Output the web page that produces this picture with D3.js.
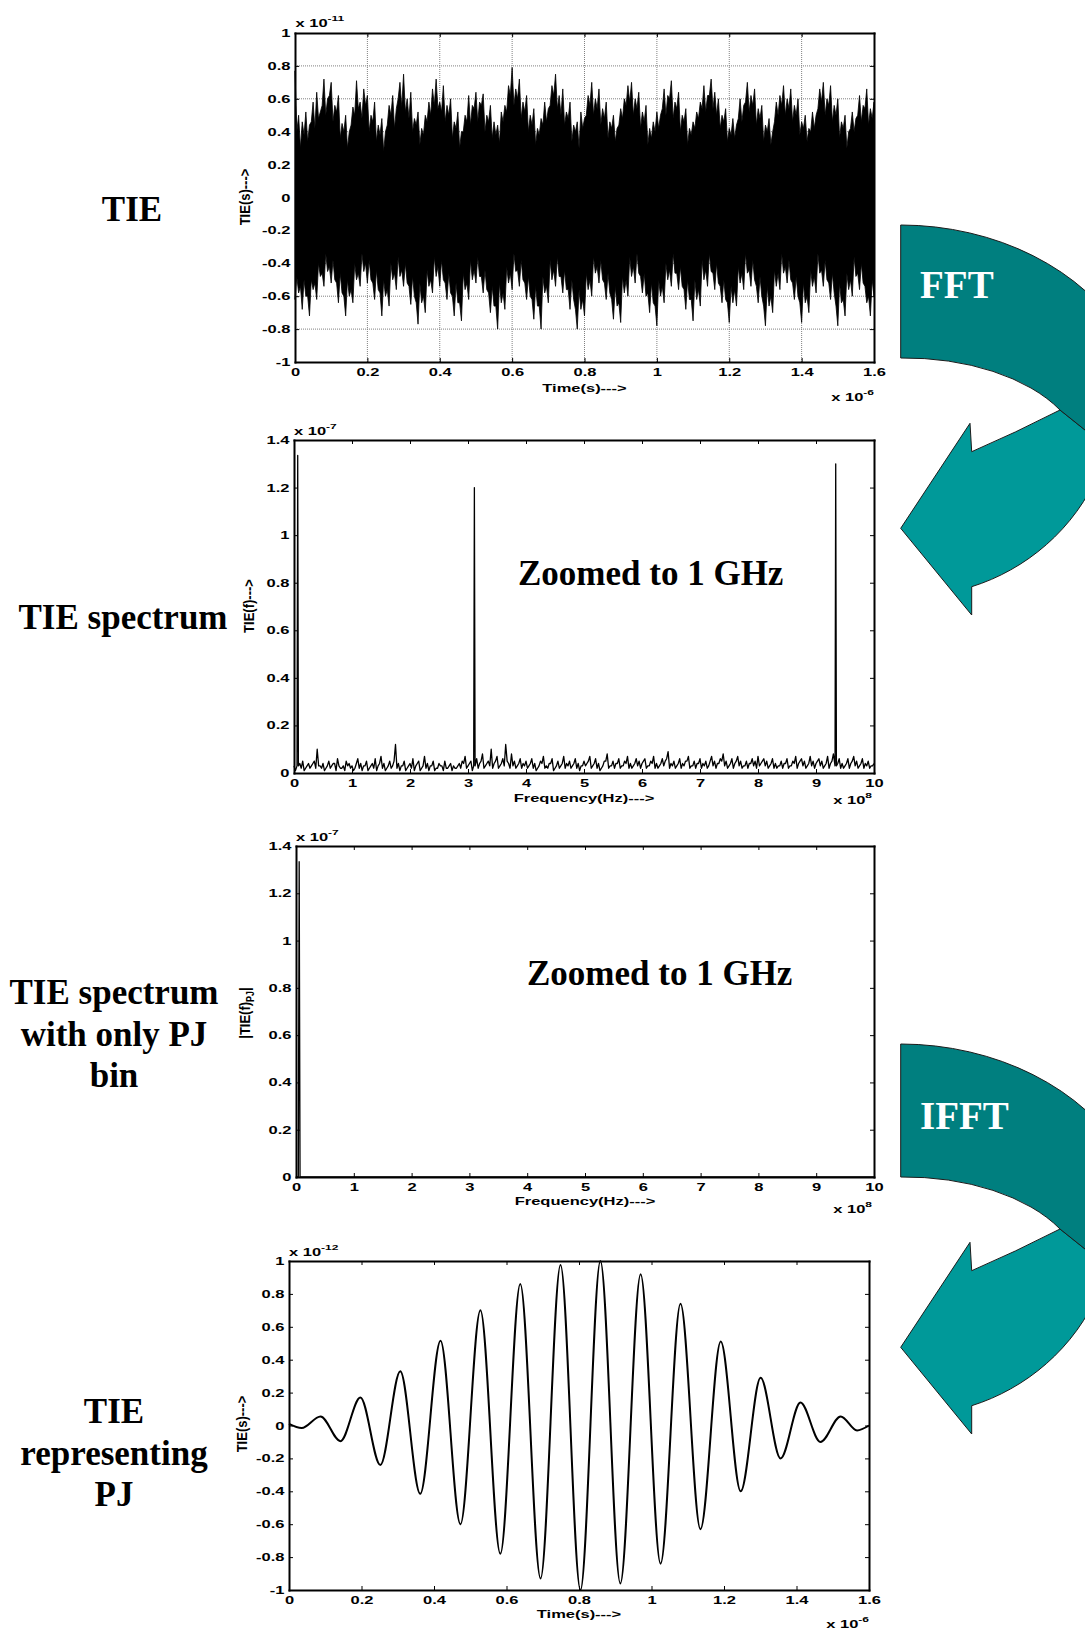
<!DOCTYPE html>
<html><head><meta charset="utf-8">
<script src="https://cdn.jsdelivr.net/npm/d3@7"></script>
<style>body{margin:0;background:#fff;} svg{display:block;}</style>
</head><body>
<svg id="c" width="1085" height="1629"></svg>
<script>
// ---------------- DATA ----------------
// Panel 1: TIE record (units 1e-11 s). Upper / lower envelope of the dense jitter trace,
// sampled every 0.01 us, plus the values between samples (at +0.005 us).
const tieTimeStep = 0.01;
const tieUpper = [0.77,0.50,0.46,0.52,0.44,0.58,0.64,0.52,0.72,0.60,0.70,0.56,0.62,0.45,0.50,0.40,0.55,0.71,0.58,0.66,
  0.62,0.50,0.58,0.44,0.48,0.40,0.56,0.62,0.54,0.70,0.75,0.60,0.64,0.48,0.52,0.42,0.50,0.58,0.66,0.72,
  0.58,0.68,0.56,0.60,0.46,0.52,0.40,0.50,0.62,0.56,0.64,0.58,0.63,0.50,0.56,0.46,0.44,0.52,0.56,0.68,
  0.79,0.66,0.72,0.58,0.62,0.50,0.54,0.42,0.48,0.58,0.54,0.68,0.75,0.62,0.66,0.52,0.58,0.44,0.46,0.52,
  0.48,0.62,0.70,0.60,0.66,0.54,0.58,0.46,0.50,0.42,0.54,0.60,0.68,0.70,0.60,0.64,0.52,0.56,0.42,0.46,
  0.52,0.50,0.66,0.62,0.71,0.58,0.64,0.50,0.54,0.42,0.46,0.52,0.58,0.68,0.62,0.72,0.64,0.60,0.50,0.54,
  0.42,0.48,0.44,0.60,0.56,0.70,0.62,0.66,0.54,0.56,0.44,0.48,0.40,0.58,0.62,0.68,0.60,0.66,0.56,0.60,
  0.46,0.50,0.42,0.52,0.50,0.66,0.70,0.60,0.68,0.56,0.60,0.46,0.50,0.40,0.52,0.48,0.62,0.56,0.66,0.54,0.58];
const tieUpperMid = [0.40,0.30,0.38,0.34,0.46,0.42,0.48,0.56,0.50,0.62,0.46,0.52,0.36,0.40,0.30,0.44,0.50,0.54,0.48,0.56,
  0.40,0.46,0.34,0.38,0.28,0.44,0.50,0.42,0.60,0.55,0.52,0.48,0.40,0.44,0.32,0.38,0.46,0.50,0.56,0.54,
  0.52,0.46,0.50,0.36,0.42,0.30,0.40,0.46,0.44,0.54,0.46,0.56,0.40,0.46,0.36,0.38,0.33,0.46,0.52,0.62,
  0.56,0.60,0.48,0.52,0.40,0.44,0.32,0.38,0.44,0.46,0.56,0.62,0.54,0.50,0.44,0.48,0.34,0.40,0.30,0.42,
  0.50,0.56,0.50,0.54,0.44,0.48,0.36,0.42,0.34,0.44,0.48,0.56,0.58,0.50,0.54,0.42,0.46,0.32,0.36,0.40,
  0.42,0.54,0.50,0.60,0.48,0.54,0.40,0.46,0.32,0.38,0.42,0.48,0.54,0.52,0.62,0.54,0.50,0.42,0.46,0.34,
  0.38,0.36,0.48,0.46,0.58,0.52,0.56,0.44,0.48,0.34,0.40,0.32,0.46,0.50,0.56,0.50,0.54,0.46,0.50,0.38,
  0.42,0.34,0.40,0.42,0.54,0.58,0.50,0.56,0.46,0.50,0.36,0.42,0.30,0.42,0.40,0.50,0.46,0.54,0.44,0.48];
const tieLower = [-0.62,-0.58,-0.68,-0.60,-0.72,-0.56,-0.62,-0.48,-0.54,-0.45,-0.52,-0.50,-0.64,-0.58,-0.72,-0.60,-0.64,-0.50,-0.54,-0.45,
  -0.52,-0.50,-0.62,-0.56,-0.72,-0.60,-0.66,-0.50,-0.56,-0.48,-0.54,-0.52,-0.65,-0.60,-0.77,-0.64,-0.70,-0.54,-0.58,-0.48,
  -0.54,-0.50,-0.62,-0.58,-0.72,-0.64,-0.75,-0.56,-0.62,-0.50,-0.52,-0.48,-0.58,-0.56,-0.70,-0.66,-0.80,-0.64,-0.68,-0.52,
  -0.56,-0.45,-0.54,-0.50,-0.62,-0.60,-0.74,-0.66,-0.80,-0.58,-0.64,-0.50,-0.54,-0.48,-0.58,-0.56,-0.68,-0.62,-0.80,-0.68,
  -0.72,-0.56,-0.60,-0.46,-0.52,-0.50,-0.62,-0.58,-0.74,-0.66,-0.76,-0.58,-0.60,-0.48,-0.52,-0.46,-0.58,-0.60,-0.70,-0.64,
  -0.78,-0.60,-0.64,-0.50,-0.54,-0.46,-0.56,-0.54,-0.68,-0.62,-0.75,-0.62,-0.66,-0.50,-0.54,-0.45,-0.56,-0.52,-0.64,-0.62,
  -0.76,-0.64,-0.66,-0.52,-0.56,-0.46,-0.54,-0.50,-0.64,-0.60,-0.78,-0.66,-0.70,-0.54,-0.56,-0.46,-0.52,-0.50,-0.62,-0.60,
  -0.76,-0.64,-0.70,-0.54,-0.58,-0.46,-0.54,-0.50,-0.62,-0.58,-0.78,-0.64,-0.72,-0.56,-0.60,-0.48,-0.56,-0.52,-0.64,-0.72,-0.60];
const tieLowerMid = [-0.48,-0.54,-0.50,-0.60,-0.50,-0.52,-0.40,-0.46,-0.34,-0.42,-0.38,-0.52,-0.46,-0.60,-0.50,-0.56,-0.40,-0.46,-0.34,-0.40,
  -0.38,-0.52,-0.44,-0.58,-0.50,-0.56,-0.40,-0.46,-0.36,-0.44,-0.40,-0.54,-0.48,-0.64,-0.52,-0.60,-0.44,-0.50,-0.36,-0.42,
  -0.38,-0.52,-0.46,-0.60,-0.52,-0.64,-0.46,-0.52,-0.38,-0.44,-0.36,-0.48,-0.44,-0.58,-0.54,-0.66,-0.52,-0.58,-0.42,-0.46,
  -0.34,-0.44,-0.38,-0.52,-0.48,-0.62,-0.54,-0.66,-0.48,-0.54,-0.38,-0.44,-0.36,-0.48,-0.44,-0.56,-0.50,-0.68,-0.56,-0.62,
  -0.46,-0.50,-0.36,-0.42,-0.38,-0.52,-0.46,-0.62,-0.54,-0.64,-0.48,-0.50,-0.36,-0.42,-0.34,-0.48,-0.46,-0.58,-0.52,-0.66,
  -0.50,-0.54,-0.40,-0.44,-0.34,-0.46,-0.42,-0.56,-0.50,-0.62,-0.50,-0.56,-0.38,-0.44,-0.34,-0.46,-0.40,-0.54,-0.50,-0.64,
  -0.54,-0.56,-0.42,-0.46,-0.34,-0.44,-0.38,-0.54,-0.48,-0.66,-0.54,-0.60,-0.44,-0.46,-0.34,-0.42,-0.38,-0.52,-0.48,-0.64,
  -0.52,-0.60,-0.44,-0.48,-0.34,-0.44,-0.38,-0.52,-0.46,-0.66,-0.52,-0.62,-0.46,-0.50,-0.36,-0.46,-0.40,-0.54,-0.60,-0.50];

// Panel 2: TIE spectrum noise floor (units 1e-7), every 0.05 x 1e8 Hz and between (at +0.025), plus spectral lines
const specFreqStep = 0.05;
const specNoise = [0.03,0.02,0.04,0.05,0.02,0.04,0.03,0.05,0.10,0.03,0.04,0.02,0.05,0.03,0.04,0.06,0.02,0.03,0.05,0.04,
  0.03,0.02,0.06,0.04,0.03,0.05,0.02,0.04,0.06,0.03,0.07,0.04,0.02,0.05,0.03,0.12,0.04,0.03,0.05,0.02,
  0.04,0.06,0.03,0.05,0.02,0.07,0.04,0.03,0.05,0.02,0.04,0.03,0.05,0.02,0.04,0.03,0.02,0.04,0.05,0.07,
  0.03,0.05,0.02,0.06,0.04,0.08,0.03,0.05,0.10,0.04,0.07,0.03,0.06,0.12,0.04,0.08,0.05,0.03,0.06,0.04,
  0.05,0.03,0.06,0.04,0.02,0.05,0.07,0.03,0.04,0.06,0.02,0.05,0.03,0.07,0.04,0.05,0.03,0.06,0.04,0.03,
  0.05,0.04,0.07,0.03,0.06,0.04,0.02,0.05,0.08,0.03,0.05,0.04,0.06,0.03,0.05,0.07,0.04,0.03,0.06,0.05,
  0.04,0.06,0.03,0.05,0.07,0.04,0.03,0.06,0.05,0.09,0.04,0.05,0.03,0.06,0.04,0.05,0.07,0.03,0.05,0.04,
  0.06,0.04,0.05,0.03,0.07,0.05,0.04,0.06,0.08,0.05,0.03,0.06,0.04,0.07,0.05,0.03,0.05,0.04,0.06,0.05,
  0.07,0.04,0.06,0.05,0.03,0.06,0.04,0.03,0.05,0.04,0.06,0.03,0.05,0.07,0.04,0.06,0.05,0.03,0.07,0.05,
  0.04,0.06,0.05,0.03,0.07,0.04,0.08,0.05,0.06,0.04,0.03,0.06,0.04,0.07,0.05,0.03,0.06,0.04,0.05,0.03,0.04];
const specNoiseMid = [0.01,0.03,0.02,0.01,0.03,0.02,0.04,0.02,0.03,0.02,0.01,0.03,0.02,0.04,0.01,0.03,0.02,0.01,0.03,0.02,
  0.01,0.04,0.02,0.01,0.03,0.01,0.03,0.02,0.01,0.04,0.02,0.01,0.03,0.02,0.05,0.02,0.01,0.03,0.01,0.03,
  0.02,0.01,0.04,0.01,0.03,0.02,0.01,0.03,0.01,0.02,0.03,0.01,0.02,0.03,0.01,0.02,0.03,0.02,0.04,0.02,
  0.04,0.01,0.03,0.02,0.05,0.02,0.04,0.03,0.02,0.05,0.02,0.04,0.03,0.05,0.02,0.03,0.02,0.04,0.02,0.03,
  0.02,0.04,0.02,0.01,0.03,0.04,0.02,0.02,0.04,0.01,0.03,0.02,0.04,0.02,0.03,0.02,0.04,0.02,0.01,0.03,
  0.03,0.05,0.02,0.04,0.02,0.01,0.03,0.05,0.02,0.03,0.02,0.04,0.02,0.03,0.04,0.02,0.02,0.04,0.03,0.02,
  0.05,0.02,0.03,0.04,0.02,0.02,0.04,0.03,0.06,0.02,0.03,0.02,0.04,0.02,0.03,0.05,0.02,0.03,0.02,0.04,
  0.02,0.03,0.02,0.05,0.03,0.02,0.04,0.05,0.03,0.02,0.04,0.02,0.05,0.03,0.02,0.03,0.02,0.04,0.03,0.02,
  0.03,0.05,0.03,0.02,0.04,0.02,0.02,0.03,0.02,0.04,0.02,0.03,0.04,0.02,0.05,0.03,0.02,0.04,0.03,0.02,
  0.05,0.03,0.02,0.04,0.02,0.05,0.03,0.04,0.02,0.02,0.04,0.02,0.05,0.03,0.02,0.04,0.02,0.03,0.02,0.03];
const specPeakFreq = [0.064, 3.11, 9.34];
const specPeakValue = [1.335, 1.20, 1.30];

// Panel 3: spectrum keeping only the PJ bin
const pjBinFreq = [0, 0.04, 0.055, 0.07, 10];
const pjBinValue = [0, 0, 1.335, 0, 0];

// Panel 4: TIE representing PJ (units 1e-12 s), extrema
const pjTime = [0,0.035,0.087,0.142,0.197,0.252,0.307,0.362,0.418,0.473,0.528,0.583,0.638,0.694,0.749,0.804,
  0.859,0.914,0.970,1.025,1.080,1.135,1.191,1.246,1.301,1.356,1.411,1.466,1.522,1.567,1.6];
const pjValue = [0.01,-0.015,0.055,-0.095,0.17,-0.24,0.33,-0.415,0.515,-0.60,0.70,-0.78,0.86,-0.93,0.975,-1.0,
  1.0,-0.96,0.92,-0.84,0.74,-0.63,0.51,-0.40,0.29,-0.20,0.14,-0.10,0.055,-0.03,0.0];

// Ticks
const timeTicks = [0,0.2,0.4,0.6,0.8,1,1.2,1.4,1.6];
const timeTickLabels = ["0","0.2","0.4","0.6","0.8","1","1.2","1.4","1.6"];
const freqTicks = [0,1,2,3,4,5,6,7,8,9,10];
const freqTickLabels = ["0","1","2","3","4","5","6","7","8","9","10"];
const tieTicks = [-1,-0.8,-0.6,-0.4,-0.2,0,0.2,0.4,0.6,0.8,1];
const tieTickLabels = ["-1","-0.8","-0.6","-0.4","-0.2","0","0.2","0.4","0.6","0.8","1"];
const specTicks = [0,0.2,0.4,0.6,0.8,1,1.2,1.4];
const specTickLabels = ["0","0.2","0.4","0.6","0.8","1","1.2","1.4"];

// ---------------- DRAWING ----------------
const svg = d3.select('#c');
svg.append('rect').attr('width',1085).attr('height',1629).attr('fill','#fff');
const SANS = 'Liberation Sans, Arial, sans-serif';
const SERIF = 'Liberation Serif, Times New Roman, serif';
const SX = 1.5; // horizontal stretch of the small MATLAB fonts

function makePanel(o){
  const x = d3.scaleLinear().domain(o.xDomain).range([o.left,o.right]);
  const y = d3.scaleLinear().domain(o.yDomain).range([o.bottom,o.top]);
  const g = svg.append('g');
  return {x,y,g,o};
}

function frame(p, xt, xl, yt, yl){
  const {x,y,g,o} = p;
  const ax = g.append('g');
  ax.append('g').attr('transform',`translate(0,${o.bottom})`)
    .call(d3.axisBottom(x).tickValues(xt).tickFormat((d,i)=>xl[i]).tickSize(-4).tickSizeOuter(0).tickPadding(6));
  ax.append('g').attr('transform',`translate(0,${o.top})`)
    .call(d3.axisTop(x).tickValues(xt).tickFormat('').tickSize(-4).tickSizeOuter(0));
  ax.append('g').attr('transform',`translate(${o.left},0)`)
    .call(d3.axisLeft(y).tickValues(yt).tickFormat((d,i)=>yl[i]).tickSize(-4).tickSizeOuter(0).tickPadding(3));
  ax.append('g').attr('transform',`translate(${o.right},0)`)
    .call(d3.axisRight(y).tickValues(yt).tickFormat('').tickSize(-4).tickSizeOuter(0));
  ax.selectAll('.domain').attr('stroke','#000').attr('stroke-width',2).attr('stroke-linecap','square');
  ax.selectAll('.tick line').attr('stroke','#000').attr('stroke-width',1);
  ax.selectAll('.tick text').attr('transform',`scale(${SX},1)`)
    .attr('font-family',SANS).attr('font-weight','bold').attr('font-size',11).attr('fill','#000');
}

function stretchText(x, y, anchor, parts, rotate){
  const tr = rotate ? `translate(${x},${y}) scale(1.15,1) rotate(-90)` : `translate(${x},${y}) scale(${SX},1)`;
  const gg = svg.append('g').attr('transform',tr);
  const t = gg.append('text').attr('text-anchor',anchor).attr('font-family',SANS).attr('font-weight','bold')
    .attr('font-size',rotate?13:11).attr('fill','#000');
  if (rotate) t.attr('dy','0.35em');
  parts.forEach(pt=>{
    const ts = t.append('tspan').text(pt.t);
    if (pt.dy) ts.attr('dy',pt.dy);
    if (pt.fs) ts.attr('font-size',pt.fs);
  });
  return t;
}
function expLabel(x, y, anchor, exp){
  return stretchText(x, y, anchor, [{t:'x 10'},{t:exp, dy:-6, fs:8}]);
}

// ---- Panel 1 ----
const p1 = makePanel({left:295,right:874,top:33,bottom:362,xDomain:[0,1.6],yDomain:[-1,1]});
p1.g.append('g').selectAll('line').data(timeTicks.slice(1,-1)).join('line')
  .attr('x1',d=>p1.x(d)).attr('x2',d=>p1.x(d)).attr('y1',p1.y(1)).attr('y2',p1.y(-1))
  .attr('stroke','#808080').attr('stroke-width',1).attr('stroke-dasharray','1,1');
p1.g.append('g').selectAll('line').data(tieTicks.slice(1,-1)).join('line')
  .attr('y1',d=>p1.y(d)).attr('y2',d=>p1.y(d)).attr('x1',p1.x(0)).attr('x2',p1.x(1.6))
  .attr('stroke','#808080').attr('stroke-width',1).attr('stroke-dasharray','1,1');
const tiePts = [];
tieUpper.forEach((u,i)=>{
  tiePts.push({t:i*tieTimeStep, hi:u, lo:tieLower[i]});
  if (i < tieUpperMid.length) tiePts.push({t:i*tieTimeStep + tieTimeStep/2, hi:tieUpperMid[i], lo:tieLowerMid[i]});
});
p1.g.append('path').datum(tiePts)
  .attr('d', d3.area().x(d=>p1.x(d.t)).y0(d=>p1.y(d.lo)).y1(d=>p1.y(d.hi)))
  .attr('fill','#000').attr('stroke','#000').attr('stroke-width',0.8).attr('stroke-linejoin','miter');
frame(p1, timeTicks, timeTickLabels, tieTicks, tieTickLabels);
expLabel(295.5, 26.7, 'start', '-11');
expLabel(874, 400.5, 'end', '-6');
stretchText(584.5, 392, 'middle', [{t:'Time(s)--->'}]);
stretchText(245, 197, 'middle', [{t:'TIE(s)--->'}], true);

// ---- Panel 2 ----
const p2 = makePanel({left:294,right:874,top:440,bottom:773,xDomain:[0,10],yDomain:[0,1.4]});
let specPts = [];
specNoise.forEach((v,i)=>{
  specPts.push([i*specFreqStep, v]);
  if (i < specNoiseMid.length) specPts.push([i*specFreqStep + specFreqStep/2, specNoiseMid[i]]);
});
specPeakFreq.forEach((f,i)=>{
  specPts = specPts.filter(d=>Math.abs(d[0]-f) > 0.02);
  specPts.push([f-0.012, 0.03],[f, specPeakValue[i]],[f+0.012, 0.03]);
});
specPts.sort((a,b)=>a[0]-b[0]);
p2.g.append('path').datum(specPts)
  .attr('d', d3.line().x(d=>p2.x(d[0])).y(d=>p2.y(d[1])))
  .attr('fill','none').attr('stroke','#000').attr('stroke-width',1.3).attr('stroke-linejoin','round');
frame(p2, freqTicks, freqTickLabels, specTicks, specTickLabels);
expLabel(294, 435, 'start', '-7');
expLabel(872, 804, 'end', '8');
stretchText(584, 802, 'middle', [{t:'Frequency(Hz)--->'}]);
stretchText(249, 606, 'middle', [{t:'TIE(f)--->'}], true);

// ---- Panel 3 ----
const p3 = makePanel({left:296,right:874,top:846,bottom:1177,xDomain:[0,10],yDomain:[0,1.4]});
p3.g.append('path').datum(pjBinFreq.map((f,i)=>[f,pjBinValue[i]]))
  .attr('d', d3.line().x(d=>p3.x(d[0])).y(d=>p3.y(d[1])))
  .attr('fill','none').attr('stroke','#000').attr('stroke-width',1.3);
frame(p3, freqTicks, freqTickLabels, specTicks, specTickLabels);
expLabel(296, 840.7, 'start', '-7');
expLabel(872, 1213, 'end', '8');
stretchText(585, 1205, 'middle', [{t:'Frequency(Hz)--->'}]);
stretchText(245, 1013, 'middle', [{t:'|TIE(f)'},{t:'PJ',dy:3,fs:9},{t:'|',dy:-3}], true);

// ---- Panel 4 ----
const p4 = makePanel({left:289,right:869,top:1261,bottom:1590,xDomain:[0,1.6],yDomain:[-1,1]});
p4.g.append('path').datum(pjTime.map((t,i)=>[t,pjValue[i]]))
  .attr('d', d3.line().x(d=>p4.x(d[0])).y(d=>p4.y(d[1])).curve(d3.curveMonotoneX))
  .attr('fill','none').attr('stroke','#000').attr('stroke-width',2);
frame(p4, timeTicks, timeTickLabels, tieTicks, tieTickLabels);
expLabel(289, 1256, 'start', '-12');
expLabel(869, 1628, 'end', '-6');
stretchText(579, 1618, 'middle', [{t:'Time(s)--->'}]);
stretchText(242, 1424, 'middle', [{t:'TIE(s)--->'}], true);

// ---- Zoom notes ----
svg.append('text').attr('x',518).attr('y',585).attr('font-family',SERIF).attr('font-weight','bold')
  .attr('font-size',35).text('Zoomed to 1 GHz');
svg.append('text').attr('x',527).attr('y',985).attr('font-family',SERIF).attr('font-weight','bold')
  .attr('font-size',35).text('Zoomed to 1 GHz');

// ---- Left captions ----
function caption(cx, lines, y0){
  const t = svg.append('text').attr('text-anchor','middle').attr('font-family',SERIF)
    .attr('font-weight','bold').attr('font-size',35).attr('fill','#000');
  lines.forEach((l,i)=> t.append('tspan').attr('x',cx).attr('y',y0 + i*41.5).text(l));
}
caption(132, ['TIE'], 221);
caption(123, ['TIE spectrum'], 629);
caption(114, ['TIE spectrum','with only PJ','bin'], 1004);
caption(114, ['TIE','representing','PJ'], 1423);

// ---- Curved arrows ----
function arrow(dy, label, labelDy){
  const g = svg.append('g').attr('transform',`translate(0,${dy})`);
  g.append('path')
    .attr('d','M1060,410 Q1015,433 971.7,451.7 L970,423.3 L900.7,528.3 L971.7,615 L971.7,586.7 C1025,570 1075,530 1100,470 L1125,462 Z')
    .attr('fill','#009999').attr('stroke','#1b1b1b').attr('stroke-width',1);
  g.append('path')
    .attr('d','M900.7,225 A250,200 0 0,1 1125,338 L1125,462 L1060,410 A178,102 0 0,0 900.7,358 Z')
    .attr('fill','#007f7f').attr('stroke','#1b1b1b').attr('stroke-width',1);
  g.append('text').attr('x',920).attr('y',298 + labelDy).attr('font-family',SERIF).attr('font-weight','bold')
    .attr('font-size',39).attr('fill','#fff').text(label);
}
arrow(0,'FFT',0);
arrow(819,'IFFT',12);
</script>
</body></html>
